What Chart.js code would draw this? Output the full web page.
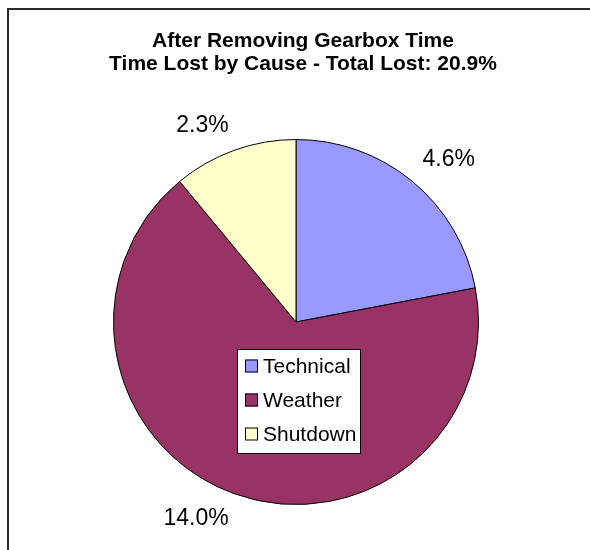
<!DOCTYPE html>
<html>
<head>
<meta charset="utf-8">
<script src="https://cdn.jsdelivr.net/npm/chart.js@4/dist/chart.umd.min.js"></script>
<style>
  body { margin: 0; background: #fff; }
  canvas { display: block; }
</style>
</head>
<body>
<canvas id="lost" width="590" height="550"></canvas>
<script>
// time lost by cause, % of total time
const causes = ["Technical", "Weather", "Shutdown"];
const lostPct = [4.6, 14.0, 2.3];
const titleLines = ["After Removing Gearbox Time", "Time Lost by Cause - Total Lost: 20.9%"];
const sliceColors = ["#9999FF", "#993366", "#FFFFCC"];

const FONT = "Arial, 'Liberation Sans', sans-serif";

// frame round the chart (runs off the right and bottom edge) + title centred in it
const frame = {
  id: "frame",
  beforeDraw: (chart, args, options) => {
    const { ctx } = chart;
    const fx = 8, fy = 9, fr = 598;
    ctx.save();
    ctx.fillStyle = "#fff";
    ctx.fillRect(0, 0, chart.width, chart.height);
    ctx.strokeStyle = "#2a2a2a";
    ctx.lineWidth = 2;
    ctx.beginPath();
    ctx.moveTo(chart.width + 2, fy);
    ctx.lineTo(fx, fy);
    ctx.lineTo(fx, chart.height + 2);
    ctx.stroke();
    ctx.fillStyle = "#000";
    ctx.font = options.font;
    ctx.textAlign = "center";
    ctx.textBaseline = "alphabetic";
    options.lines.forEach((t, i) => {
      ctx.fillText(t, (fx + fr) / 2, options.baseline + i * options.lineGap);
    });
    ctx.restore();
  },
};

// percentage labels outside each slice
const outLabels = {
  id: "outLabels",
  afterDatasetsDraw: (chart, args, options) => {
    const { ctx } = chart;
    const meta = chart.getDatasetMeta(0);
    const values = chart.data.datasets[0].data;
    ctx.save();
    ctx.font = options.font;
    ctx.fillStyle = "#000";
    ctx.textAlign = "center";
    ctx.textBaseline = "middle";
    meta.data.forEach((arc, i) => {
      const { x, y, startAngle, endAngle, outerRadius } = arc.getProps(
        ["x", "y", "startAngle", "endAngle", "outerRadius"], true);
      const mid = (startAngle + endAngle) / 2;
      const text = values[i].toFixed(1) + "%";
      const w = ctx.measureText(text).width;
      const h = options.height;
      const ax = x + Math.cos(mid) * (outerRadius + options.gap);
      const ay = y + Math.sin(mid) * (outerRadius + options.gap);
      const tx = ax + Math.sign(Math.cos(mid)) * w / 2;
      const ty = ay + Math.sign(Math.sin(mid)) * h / 2;
      ctx.fillText(text, tx, ty);
    });
    ctx.restore();
  },
};

// boxed legend sitting on the pie
const boxLegend = {
  id: "boxLegend",
  afterDraw: (chart, args, options) => {
    const { ctx } = chart;
    const ds = chart.data.datasets[0];
    const { left, top, width, rowH, box } = options;
    const height = rowH * chart.data.labels.length + 2;
    ctx.save();
    ctx.fillStyle = "#fff";
    ctx.fillRect(left, top, width, height);
    ctx.strokeStyle = "#000";
    ctx.lineWidth = 1;
    ctx.strokeRect(left + 0.5, top + 0.5, width, height);
    ctx.font = options.font;
    ctx.textBaseline = "middle";
    ctx.textAlign = "left";
    chart.data.labels.forEach((lab, i) => {
      const cy = top + 17 + i * rowH;
      ctx.fillStyle = ds.backgroundColor[i];
      ctx.fillRect(left + 8, cy - box / 2, box, box);
      ctx.strokeRect(left + 8.5, cy - box / 2 + 0.5, box - 1, box - 1);
      ctx.fillStyle = "#000";
      ctx.fillText(lab, left + 26, cy + 1);
    });
    ctx.restore();
  },
};

new Chart(document.getElementById("lost"), {
  type: "pie",
  data: {
    labels: causes,
    datasets: [
      {
        data: lostPct,
        backgroundColor: sliceColors,
        borderColor: "#000",
        borderWidth: 1,
      },
    ],
  },
  plugins: [frame, outLabels, boxLegend],
  options: {
    responsive: false,
    animation: false,
    layout: {
      padding: { left: 113, right: 111, top: 139, bottom: 45 },
    },
    plugins: {
      legend: { display: false },
      tooltip: { enabled: false },
      title: { display: false },
      frame: {
        lines: titleLines,
        font: "bold 21px " + FONT,
        baseline: 47,
        lineGap: 23,
      },
      outLabels: {
        font: "23px " + FONT,
        height: 19,
        gap: 16,
      },
      boxLegend: {
        left: 237,
        top: 349,
        width: 123,
        rowH: 34,
        box: 13,
        font: "21px " + FONT,
      },
    },
  },
});
</script>
</body>
</html>
